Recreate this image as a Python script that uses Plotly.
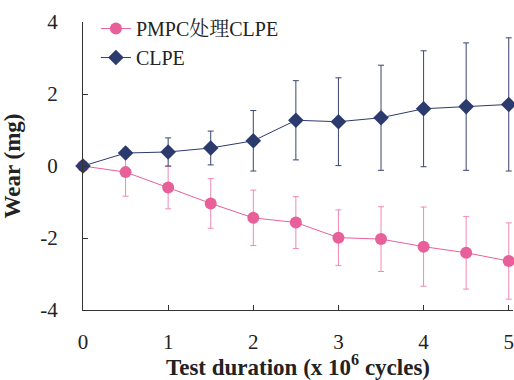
import plotly.graph_objects as go

x = [0, 0.5, 1, 1.5, 2, 2.5, 3, 3.5, 4, 4.5, 5]
pmpc = [0, -0.17, -0.6, -1.04, -1.44, -1.57, -1.99, -2.03, -2.24, -2.41, -2.64]
pmpc_err = [0, 0.67, 0.59, 0.69, 0.77, 0.72, 0.77, 0.9, 1.1, 1.01, 1.06]
clpe = [0, 0.36, 0.39, 0.5, 0.7, 1.27, 1.23, 1.34, 1.59, 1.65, 1.71]
clpe_err = [0, 0, 0.39, 0.47, 0.84, 1.1, 1.22, 1.46, 1.61, 1.77, 1.85]

SERIF = "Liberation Serif, Noto Serif CJK SC, Noto Sans CJK SC, serif"
PINK = "#E8609A"
NAVY = "#2C3B6E"

fig = go.Figure()
fig.add_trace(go.Scatter(
    x=x, y=pmpc, mode="lines+markers", name="PMPC处理CLPE",
    line=dict(color=PINK, width=1),
    marker=dict(symbol="circle", size=12, color=PINK),
    error_y=dict(type="data", array=pmpc_err, visible=True, color="#EE8AB5", thickness=1, width=3),
    cliponaxis=False,
))
fig.add_trace(go.Scatter(
    x=x, y=clpe, mode="lines+markers", name="CLPE",
    line=dict(color=NAVY, width=1),
    marker=dict(symbol="diamond", size=12, color=NAVY),
    error_y=dict(type="data", array=clpe_err, visible=True, color="#3A4570", thickness=1, width=3),
    cliponaxis=False,
))

fig.update_layout(
    width=514, height=380,
    margin=dict(l=83, r=1, t=22, b=70, autoexpand=False),
    paper_bgcolor="white", plot_bgcolor="white",
    font=dict(family=SERIF, size=21, color="#222"),
    showlegend=True,
    hovermode=False,
    legend=dict(x=0.03, y=1.045, xanchor="left", yanchor="top",
                font=dict(family=SERIF, size=20, color="#222"),
                bgcolor="rgba(0,0,0,0)", tracegroupgap=0, itemwidth=30),
)
fig.update_xaxes(
    range=[0, 5.05], tickvals=[0, 1, 2, 3, 4, 5], ticktext=["0", "1", "2", "3", "4", "5"],
    showline=True, linecolor="#333", linewidth=1, mirror=False, automargin=False,
    ticks="inside", ticklen=5, tickcolor="#333", showgrid=False, zeroline=False,
    ticklabelstandoff=13,
    title=dict(text="<b>Test duration (x 10<sup>6</sup> cycles)</b>", font=dict(family=SERIF, size=23), standoff=8),
    tickfont=dict(family=SERIF, size=21),
)
fig.update_yaxes(
    range=[-4, 4], tickvals=[-4, -2, 0, 2, 4], ticktext=["-4", "-2", "0", "2", "4"],
    showline=True, linecolor="#333", linewidth=1, automargin=False,
    ticks="inside", ticklen=5, tickcolor="#333", showgrid=False, zeroline=False,
    ticklabelstandoff=20,
    title=dict(text="<b>Wear (mg)</b>", font=dict(family=SERIF, size=23), standoff=15),
    tickfont=dict(family=SERIF, size=21),
)

fig.write_html(
    "out.html",
    config={"displayModeBar": False},
    post_script="document.body.style.margin='0';document.body.style.overflow='hidden';document.documentElement.style.overflow='hidden';",
)
